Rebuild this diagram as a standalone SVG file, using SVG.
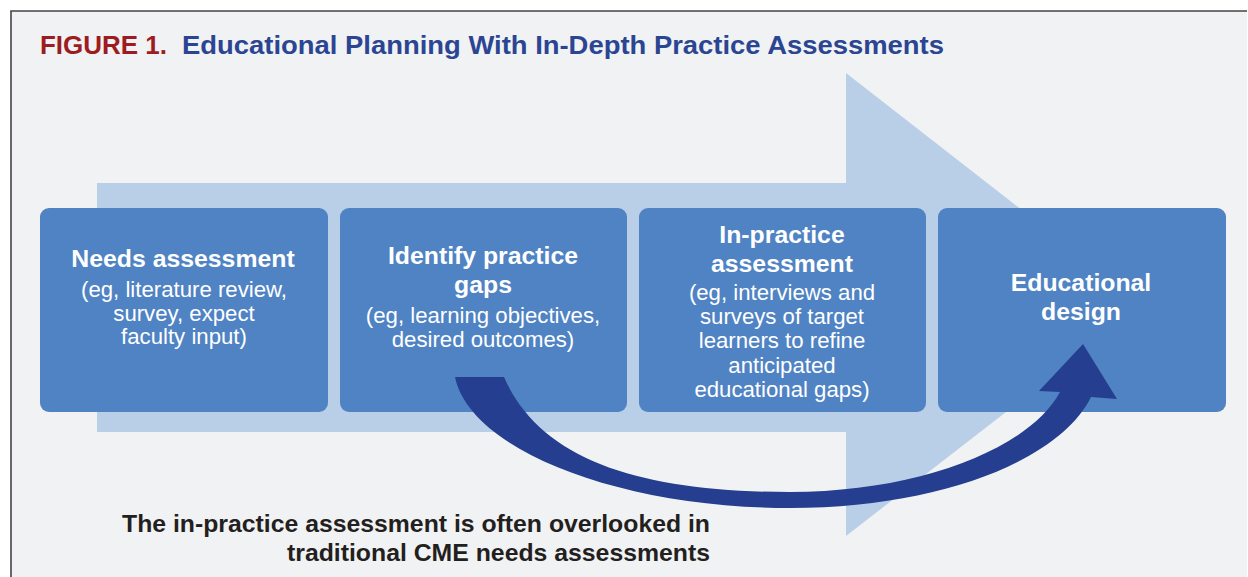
<svg xmlns="http://www.w3.org/2000/svg" width="1248" height="577" viewBox="0 0 1248 577">
  <style>
    .bg { fill: #f1f2f4; }
    .frame { fill: none; stroke: #444446; stroke-width: 1.6; }
    .band { fill: #b9cfe8; }
    .box { fill: #4f83c3; }
    .head { font-family: "Liberation Sans", Arial, sans-serif; font-weight: bold; font-size: 24.8px; fill: #ffffff; text-anchor: middle; }
    .sub { font-family: "Liberation Sans", Arial, sans-serif; font-size: 22.2px; fill: #ffffff; text-anchor: middle; }
    .fig { font-family: "Liberation Sans", Arial, sans-serif; font-weight: bold; font-size: 25px; }
    .note { font-family: "Liberation Sans", Arial, sans-serif; font-weight: bold; font-size: 24px; fill: #231f20; text-anchor: end; }
    .loop { fill: #253e8f; }
  </style>

  <!-- panel -->
  <rect x="0" y="0" width="1248" height="577" fill="#ffffff"/>
  <rect class="bg" x="11" y="11" width="1236" height="570"/>
  <path class="frame" d="M11,580 V11 H1247"/>

  <!-- title -->
  <text class="fig" x="40" y="54" fill="#9c1c22" textLength="127" lengthAdjust="spacingAndGlyphs">FIGURE 1.</text>
  <text class="fig" x="182" y="54" fill="#2b4593" textLength="762" lengthAdjust="spacingAndGlyphs">Educational Planning With In-Depth Practice Assessments</text>

  <!-- background process arrow -->
  <path class="band" d="M97,183 H846 V73 L1144,305 L846,536 V432 H97 Z"/>

  <!-- steps -->
  <g id="needs">
    <rect class="box" x="40" y="208" width="288" height="204" rx="9"/>
    <text class="head" x="183" y="267">Needs assessment</text>
    <text class="sub" x="184" y="297">(eg, literature review,</text>
    <text class="sub" x="184" y="321">survey, expect</text>
    <text class="sub" x="184" y="344">faculty input)</text>
  </g>
  <g id="gaps">
    <rect class="box" x="340" y="208" width="287" height="204" rx="9"/>
    <text class="head" x="483" y="264">Identify practice</text>
    <text class="head" x="483" y="293">gaps</text>
    <text class="sub" x="483" y="323">(eg, learning objectives,</text>
    <text class="sub" x="483" y="347">desired outcomes)</text>
  </g>
  <g id="inpractice">
    <rect class="box" x="639" y="208" width="287" height="204" rx="9"/>
    <text class="head" x="782" y="243">In-practice</text>
    <text class="head" x="782" y="272">assessment</text>
    <text class="sub" x="782" y="300">(eg, interviews and</text>
    <text class="sub" x="782" y="324">surveys of target</text>
    <text class="sub" x="782" y="348">learners to refine</text>
    <text class="sub" x="782" y="373">anticipated</text>
    <text class="sub" x="782" y="397">educational gaps)</text>
  </g>
  <g id="design">
    <rect class="box" x="938" y="208" width="288" height="204" rx="9"/>
    <text class="head" x="1081" y="291">Educational</text>
    <text class="head" x="1081" y="320">design</text>
  </g>

  <!-- bypass connector from practice gaps to educational design -->
  <g id="connectors">
    <path class="loop" d="M455,377 C470,450 620,508 790,508 C940,508 1060,460 1091,397 L1117,399 L1083,344 L1039,391 L1060,392 C1030,448 920,492 790,492 C640,492 540,460 504,377 Z"/>
  </g>

  <!-- caption -->
  <text class="note" x="710" y="532" textLength="588" lengthAdjust="spacingAndGlyphs">The in-practice assessment is often overlooked in</text>
  <text class="note" x="710" y="561" textLength="423" lengthAdjust="spacingAndGlyphs">traditional CME needs assessments</text>
</svg>
